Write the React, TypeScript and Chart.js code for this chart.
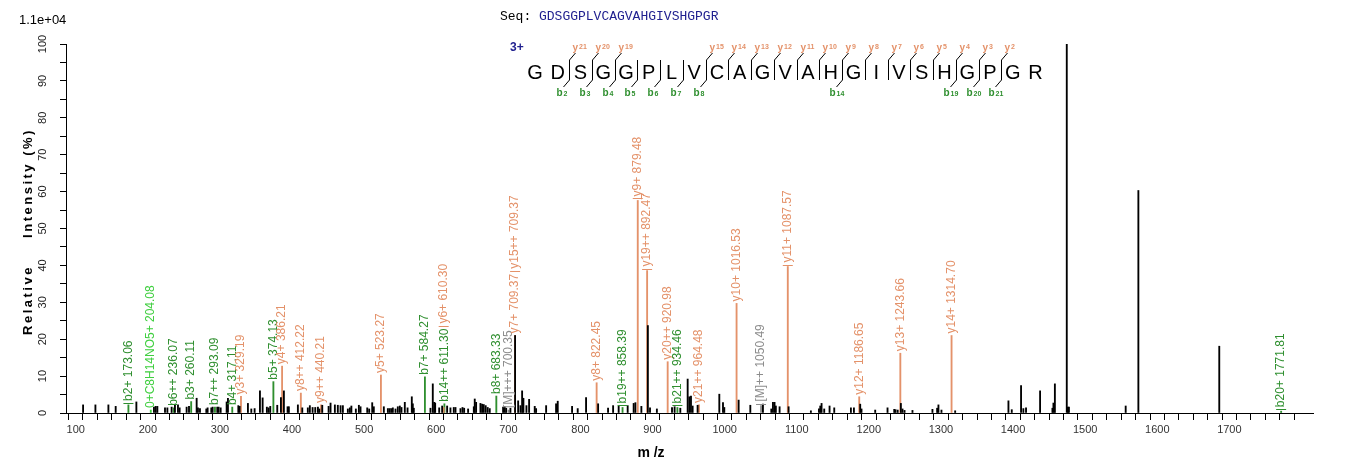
import React, { useEffect, useRef } from "react";
import { Chart, registerables } from "chart.js";

Chart.register(...registerables);

// ---- spectrum header ----
const intensityScaleText = "1.1e+04";
const peptide = "GDSGGPLVCAGVAHGIVSHGPGR";
const chargeText = "3+";
// cleavage sites (residue count from the N-terminus) with observed b ions
const bIonSites = [2, 3, 4, 5, 6, 7, 8, 14, 19, 20, 21];
// observed y ions (residue count from the C-terminus)
const yIonNumbers = [21, 20, 19, 15, 14, 13, 12, 11, 10, 9, 8, 7, 6, 5, 4, 3, 2];

// ---- axes ----
const xMin = 86.5;
const xMax = 1816;
const xTickValues = [
  100, 120, 140, 160, 180, 200, 220, 240, 260, 280, 300, 320, 340, 360, 380, 400, 420, 440, 460, 480,
  500, 520, 540, 560, 580, 600, 620, 640, 660, 680, 700, 720, 740, 760, 780, 800, 820, 840, 860, 880,
  900, 920, 940, 960, 980, 1000, 1020, 1040, 1060, 1080, 1100, 1120, 1140, 1160, 1180, 1200, 1220, 1240,
  1260, 1280, 1300, 1320, 1340, 1360, 1380, 1400, 1420, 1440, 1460, 1480, 1500, 1520, 1540, 1560, 1580,
  1600, 1620, 1640, 1660, 1680, 1700, 1720, 1740, 1760, 1780,
];
const xTickLabels = [100, 200, 300, 400, 500, 600, 700, 800, 900, 1000, 1100, 1200, 1300, 1400, 1500, 1600, 1700];
const yTickLabels = [0, 10, 20, 30, 40, 50, 60, 70, 80, 90, 100];
const yTitleWords = ["Relative", "Intensity (%)"];
const xTitle = "m /z";

// ---- unassigned peaks (m/z, relative intensity %) ----
const peakMz = [
  110.2, 127.3, 145.3, 155.4, 184.1, 208.5, 210.9, 213.2, 223.8, 227.1, 233.0, 237.6, 241.8, 244.1, 253.8,
  257.1, 267.7, 269.5, 272.3, 281.1, 282.9, 288.0, 289.9, 296.3, 298.2, 301.0, 309.3, 311.1, 325.5, 327.3,
  338.8, 343.5, 348.1, 355.5, 359.2, 365.1, 367.5, 369.8, 379.5, 384.6, 388.7, 393.8, 395.6, 408.1, 414.2,
  421.9, 424.7, 428.5, 432.2, 435.9, 437.8, 441.9, 450.7, 453.4, 459.4, 463.5, 467.3, 470.5, 477.4, 480.2,
  482.3, 488.5, 492.7, 495.0, 504.3, 507.0, 511.2, 513.4, 527.3, 532.9, 535.2, 537.5, 539.8, 543.5, 546.7,
  549.5, 551.8, 556.4, 560.2, 566.1, 567.5, 568.9, 592.0, 595.2, 597.2, 598.5, 604.1, 608.2, 615.1, 619.7,
  624.3, 626.7, 633.6, 636.4, 638.7, 644.2, 652.1, 653.4, 655.3, 661.3, 663.6, 665.9, 668.6, 671.4, 674.2,
  692.7, 695.0, 697.0, 702.9, 709.37, 713.6, 716.8, 719.1, 720.9, 725.1, 728.8, 736.6, 738.5, 752.4, 766.2,
  768.5, 788.4, 796.2, 807.8, 824.5, 838.3, 845.3, 853.0, 865.5, 873.8, 876.2, 884.5, 893.5, 896.5, 906.0,
  927.0, 930.6, 938.5, 948.7, 951.0, 953.3, 955.6, 962.5, 992.6, 997.7, 999.5, 1019.4, 1035.6, 1053.1,
  1064.7, 1067.0, 1069.2, 1071.0, 1076.2, 1088.7, 1119.6, 1130.8, 1132.6, 1134.4, 1138.1, 1145.5, 1152.0,
  1175.1, 1179.3, 1188.0, 1189.8, 1208.8, 1225.9, 1235.2, 1237.0, 1240.0, 1244.4, 1246.7, 1249.5, 1260.5,
  1288.2, 1294.7, 1296.5, 1300.7, 1319.7, 1393.6, 1398.2, 1411.1, 1414.3, 1418.0, 1437.5, 1454.6, 1456.0,
  1458.0, 1474.5, 1476.0, 1477.5, 1556.2, 1573.8, 1686.0,
];
const peakIntensity = [
  2.2, 2.2, 2.2, 1.8, 3.0, 1.6, 1.8, 1.8, 1.4, 1.4, 1.6, 2.2, 2.2, 1.4, 1.6,
  1.8, 4.0, 1.4, 1.2, 1.1, 1.4, 1.4, 1.6, 1.6, 1.6, 1.4, 3.0, 4.0, 2.0, 1.8,
  2.6, 1.1, 1.2, 6.0, 4.1, 1.6, 1.4, 1.8, 2.1, 4.2, 6.0, 1.7, 1.7, 2.2, 1.4,
  1.4, 2.0, 1.5, 1.5, 1.6, 1.1, 2.1, 1.8, 2.7, 2.2, 2.1, 2.0, 2.0, 1.1, 1.4,
  1.9, 1.1, 2.1, 1.7, 1.4, 1.1, 2.8, 1.7, 1.7, 1.2, 1.2, 1.2, 1.4, 1.1, 1.7,
  1.9, 1.5, 2.9, 1.4, 4.4, 2.5, 1.3, 1.3, 7.9, 2.9, 2.7, 1.4, 1.9, 1.9, 1.4,
  1.5, 1.5, 1.2, 1.5, 1.3, 1.1, 1.7, 3.8, 2.9, 2.6, 2.4, 2.3, 2.0, 1.5, 1.2,
  1.6, 1.7, 1.3, 1.3, 21.0, 3.3, 2.0, 6.0, 4.0, 2.0, 3.7, 1.8, 1.2, 2.0, 2.5,
  3.2, 1.8, 1.2, 4.2, 2.5, 1.3, 2.0, 1.8, 2.0, 2.6, 2.8, 1.8, 23.7, 1.4, 1.1,
  1.5, 1.7, 1.3, 9.2, 4.4, 4.6, 1.9, 2.1, 5.1, 2.8, 1.5, 3.5, 2.1, 2.4,
  1.1, 2.9, 2.9, 1.9, 1.7, 1.7, 0.6, 1.1, 1.9, 2.6, 1.1, 1.9, 1.4,
  1.4, 1.4, 2.4, 1.1, 0.8, 1.4, 1.0, 0.9, 0.8, 2.6, 1.1, 0.7, 0.7,
  1.0, 1.3, 2.2, 0.8, 0.6, 3.3, 0.9, 7.4, 1.2, 1.4, 6.0, 1.3, 2.7,
  7.9, 100, 1.6, 1.6, 1.9, 60.3, 18.1,
];

// ---- assigned fragment ions ----
const ionLabels = [
  "b2+ 173.06", "0+C8H14NO5+ 204.08", "b6++ 236.07", "b3+ 260.11", "b7++ 293.09", "b4+ 317.11",
  "y3+ 329.19", "b5+ 374.13", "y4+ 386.21", "y8++ 412.22", "y9++ 440.21", "y5+ 523.27", "b7+ 584.27",
  "b14++ 611.30", "y6+ 610.30", "b8+ 683.33", "[M]+++ 700.35", "y7+ 709.37", "y15++ 709.37",
  "y8+ 822.45", "b19++ 858.39", "y9+ 879.48", "y19++ 892.47", "y20++ 920.98", "b21++ 934.46",
  "y21++ 964.48", "y10+ 1016.53", "[M]++ 1050.49", "y11+ 1087.57", "y12+ 1186.65", "y13+ 1243.66",
  "y14+ 1314.70", "b20+ 1771.81",
];
const ionMz = [
  173.06, 204.08, 236.07, 260.11, 293.09, 317.11,
  329.19, 374.13, 386.21, 412.22, 440.21, 523.27, 584.27,
  611.3, 610.3, 683.33, 700.35, 709.37, 709.37,
  822.45, 858.39, 879.48, 892.47, 920.98, 934.46,
  964.48, 1016.53, 1050.49, 1087.57, 1186.65, 1243.66,
  1314.7, 1771.81,
];
const ionIntensity = [
  2.2, 0.8, 1.4, 3.1, 1.6, 1.6,
  4.5, 8.5, 12.7, 5.4, 2.2, 10.3, 9.8,
  2.5, 1.5, 4.6, 0.8, 21.0, 21.0,
  8.2, 1.5, 57.6, 38.6, 13.9, 1.5,
  2.2, 29.7, 2.0, 39.7, 4.4, 16.2,
  21.0, 0.5,
];
// labels that start with a short cross tick at the peak apex
const tickedLabels = new Set([
  "b2+ 173.06", "y6+ 610.30", "y15++ 709.37", "b19++ 858.39", "y9+ 879.48", "y19++ 892.47", "b21++ 934.46",
  "[M]++ 1050.49", "y11+ 1087.57", "b20+ 1771.81",
]);

const GREEN = "#2f8f2f";
const LIGHT_GREEN = "#3fcf3f";
const ORANGE = "#e4926a";
const GREY = "#8c8c8c";
const NAVY = "#20208f";
const FONT = "'Liberation Sans', Arial, sans-serif";

function ionColor(label: string): string {
  if (label.startsWith("b")) return GREEN;
  if (label.startsWith("y")) return ORANGE;
  if (label.startsWith("[M]")) return GREY;
  return LIGHT_GREEN;
}

const ionLabelPlugin = {
  id: "ionLabels",
  afterDatasetsDraw(chart: any) {
    const { ctx } = chart;
    const xs = chart.scales.x;
    const ys = chart.scales.y;
    ctx.save();
    ctx.font = `12px ${FONT}`;
    ctx.textAlign = "left";
    ctx.textBaseline = "middle";
    const placed: { px: number; end: number }[] = [];
    ionLabels.forEach((label, i) => {
      const px = xs.getPixelForValue(ionMz[i]);
      const top = ys.getPixelForValue(ionIntensity[i]);
      let start = top - 2;
      placed
        .filter((p) => Math.abs(p.px - px) < 3)
        .forEach((p) => {
          start = Math.min(start, p.end - 3);
        });
      const color = ionColor(label);
      ctx.fillStyle = color;
      ctx.strokeStyle = color;
      if (tickedLabels.has(label)) {
        ctx.lineWidth = 1;
        ctx.beginPath();
        ctx.moveTo(px - 5, Math.round(start) + 0.5);
        ctx.lineTo(px + 5, Math.round(start) + 0.5);
        ctx.stroke();
        start -= 2;
      }
      const w = ctx.measureText(label).width;
      ctx.save();
      ctx.translate(px, start);
      ctx.rotate(-Math.PI / 2);
      ctx.fillText(label, 0, 0);
      ctx.restore();
      placed.push({ px, end: start - w });
    });
    ctx.restore();
  },
};

function drawIonTag(ctx: CanvasRenderingContext2D, letter: string, num: string, x: number, y: number, color: string) {
  ctx.save();
  ctx.fillStyle = color;
  ctx.textAlign = "left";
  ctx.textBaseline = "alphabetic";
  ctx.font = `bold 10px ${FONT}`;
  ctx.fillText(letter, x, y);
  const w = ctx.measureText(letter).width;
  ctx.font = `bold 7px ${FONT}`;
  ctx.fillText(num, x + w + 1, letter === "y" ? y - 2 : y);
  ctx.restore();
}

const decorPlugin = {
  id: "spectrumDecor",
  afterDraw(chart: any) {
    const { ctx } = chart;
    const ys = chart.scales.y;
    ctx.save();

    // absolute intensity of the base peak
    ctx.fillStyle = "#000";
    ctx.font = `13px ${FONT}`;
    ctx.textAlign = "left";
    ctx.textBaseline = "alphabetic";
    ctx.fillText(intensityScaleText, 19, 24);

    // y tick labels, rotated
    ctx.font = `11px ${FONT}`;
    ctx.fillStyle = "#222";
    yTickLabels.forEach((v) => {
      const py = ys.getPixelForValue(v);
      ctx.save();
      ctx.translate(46, py);
      ctx.rotate(-Math.PI / 2);
      ctx.textAlign = "center";
      ctx.textBaseline = "alphabetic";
      ctx.fillText(String(v), 0, 0);
      ctx.restore();
    });

    // axis titles
    ctx.fillStyle = "#000";
    ctx.font = `bold 13px ${FONT}`;
    (ctx as any).letterSpacing = "2.5px";
    ctx.save();
    ctx.translate(32, 0);
    ctx.rotate(-Math.PI / 2);
    ctx.textAlign = "center";
    ctx.textBaseline = "alphabetic";
    ctx.fillText(yTitleWords[0], -300, 0);
    ctx.fillText(yTitleWords[1], -183, 0);
    ctx.restore();
    (ctx as any).letterSpacing = "0px";
    ctx.font = `bold 14px ${FONT}`;
    ctx.textAlign = "center";
    ctx.fillText(xTitle, 651, 457);

    // sequence header
    ctx.font = "13px 'Liberation Mono', 'Courier New', monospace";
    ctx.textAlign = "left";
    ctx.fillStyle = "#000";
    ctx.fillText("Seq:", 500, 20);
    const seqX = 500 + ctx.measureText("Seq: ").width;
    ctx.fillStyle = NAVY;
    ctx.fillText(peptide, seqX, 20);

    // fragmentation map
    ctx.font = `bold 12px ${FONT}`;
    ctx.fillStyle = NAVY;
    ctx.fillText(chargeText, 510, 51);

    const x0 = 535;
    const step = 22.75;
    ctx.font = `20px ${FONT}`;
    ctx.fillStyle = "#000";
    ctx.textAlign = "center";
    for (let i = 0; i < peptide.length; i++) {
      ctx.fillText(peptide[i], x0 + i * step, 79);
    }
    ctx.strokeStyle = "#000";
    ctx.lineWidth = 1;
    const n = peptide.length;
    for (let site = 1; site < n; site++) {
      const hasB = bIonSites.includes(site);
      const yNum = n - site;
      const hasY = yIonNumbers.includes(yNum);
      if (!hasB && !hasY) continue;
      const bx = Math.round(x0 + (site - 1) * step + step / 2) + 0.5;
      ctx.beginPath();
      ctx.moveTo(bx, 60);
      ctx.lineTo(bx, 80);
      ctx.stroke();
      if (hasY) {
        ctx.beginPath();
        ctx.moveTo(bx, 60);
        ctx.lineTo(bx + 6, 53);
        ctx.stroke();
        drawIonTag(ctx, "y", String(yNum), bx + 3, 51, ORANGE);
      }
      if (hasB) {
        ctx.beginPath();
        ctx.moveTo(bx, 80);
        ctx.lineTo(bx - 6, 87);
        ctx.stroke();
        drawIonTag(ctx, "b", String(site), bx - 13, 96, GREEN);
      }
    }
    ctx.restore();
  },
};

export default function App() {
  const canvasRef = useRef<HTMLCanvasElement | null>(null);

  useEffect(() => {
    if (!canvasRef.current) return;
    const chart = new Chart(canvasRef.current, {
      type: "bar",
      data: {
        datasets: [
          {
            label: "peaks",
            data: peakMz.map((m, i) => ({ x: m, y: peakIntensity[i] })),
            backgroundColor: "#000",
            barThickness: 1.2,
            grouped: false,
            order: 0,
          } as any,
          {
            label: "ions",
            data: ionMz.map((m, i) => ({ x: m, y: ionIntensity[i] })),
            backgroundColor: ionLabels.map(ionColor),
            barThickness: 1.2,
            grouped: false,
            order: 1,
          } as any,
        ],
      },
      options: {
        animation: false,
        responsive: false,
        devicePixelRatio: 1,
        layout: { padding: { top: 44, right: 49, left: 0, bottom: 0 } },
        plugins: { legend: { display: false }, tooltip: { enabled: false } },
        scales: {
          x: {
            type: "linear",
            min: xMin,
            max: xMax,
            offset: false,
            afterBuildTicks: (s: any) => {
              s.ticks = xTickValues.map((v) => ({ value: v }));
            },
            afterFit: (s: any) => {
              s.height = 60;
            },
            grid: { drawOnChartArea: false, drawTicks: true, tickLength: 7, color: "#000", lineWidth: 1 },
            border: { display: true, color: "#000", width: 1 },
            ticks: {
              autoSkip: false,
              maxRotation: 0,
              minRotation: 0,
              padding: 3,
              color: "#333",
              font: { family: FONT, size: 11 },
              callback: (v: any) => (xTickLabels.includes(Number(v)) ? String(v) : ""),
            },
          },
          y: {
            type: "linear",
            min: 0,
            max: 100,
            afterFit: (s: any) => {
              s.width = 66;
            },
            grid: { drawOnChartArea: false, drawTicks: true, tickLength: 6, color: "#000", lineWidth: 1 },
            border: { display: true, color: "#000", width: 1 },
            ticks: { display: false, stepSize: 5 },
          },
        },
      },
      plugins: [ionLabelPlugin, decorPlugin],
    } as any);
    return () => chart.destroy();
  }, []);

  return (
    <div style={{ position: "absolute", left: 0, top: 0, width: 1362, height: 473, background: "#fff" }}>
      <canvas ref={canvasRef} width={1362} height={473} style={{ display: "block" }} />
    </div>
  );
}
